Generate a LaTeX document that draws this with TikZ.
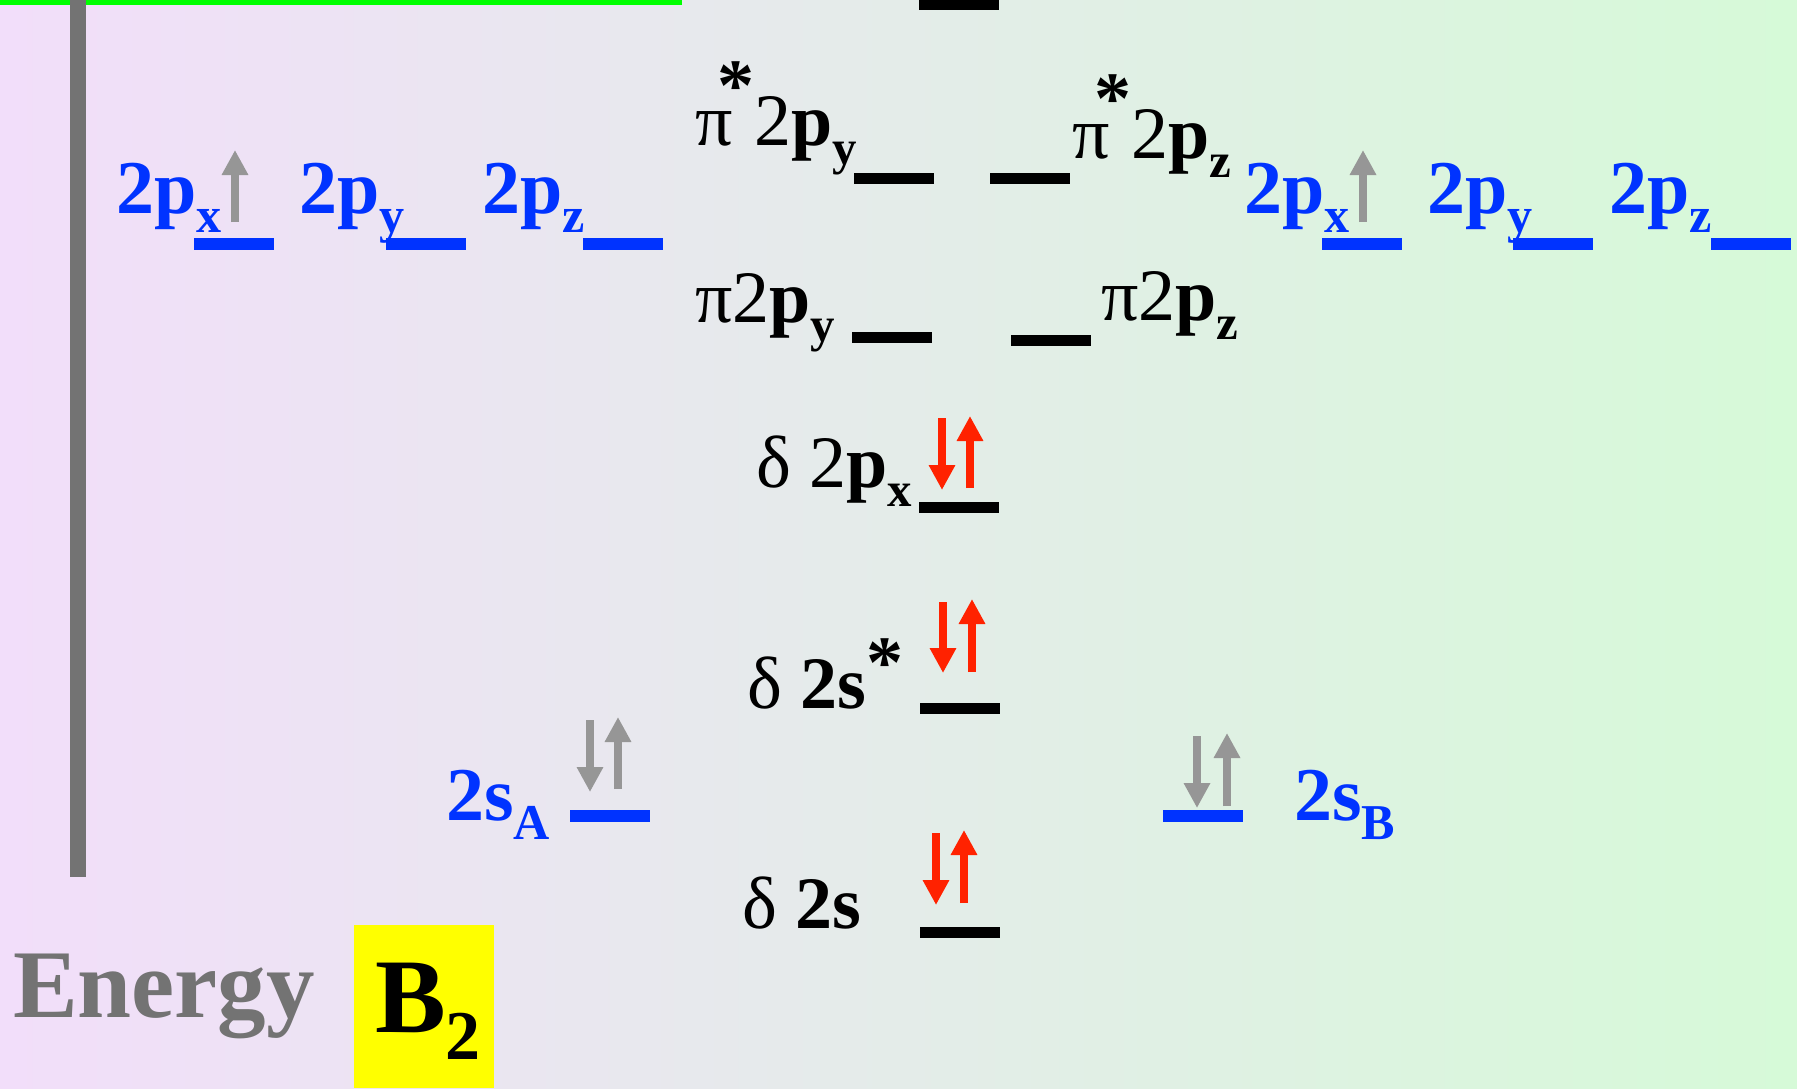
\documentclass[tikz,border=0pt]{standalone}
\usepackage{fontspec}
\setmainfont{Liberation Serif}
\usepackage{graphicx}
\usetikzlibrary{arrows.meta}
\definecolor{bgpink}{RGB}{242,222,250}
\definecolor{bgmid}{RGB}{228,234,232}
\definecolor{bggreen}{RGB}{214,250,216}
\definecolor{aoblue}{RGB}{0,51,255}
\definecolor{spinred}{RGB}{255,34,0}
\definecolor{spingray}{RGB}{150,150,150}
\definecolor{axisgray}{RGB}{115,115,115}
\definecolor{topgreen}{RGB}{0,255,0}
\definecolor{molyellow}{RGB}{255,255,0}
\newcommand\lo[1]{\raisebox{-0.26em}{\scalebox{0.66}{#1}}}
\newcommand\astup{\hspace{-15pt}\raisebox{0.47em}{\textbf{*}}}

\begin{document}
\begin{tikzpicture}[x=1pt,y=-1pt,
    mo/.style={fill=black, inner sep=0pt, minimum width=80pt, minimum height=11pt},
    ao/.style={fill=aoblue, inner sep=0pt, minimum width=80pt, minimum height=12pt},
    molbl/.style={anchor=base west, inner sep=0pt, font=\fontsize{74}{86}\selectfont},
    aolbl/.style={anchor=base west, inner sep=0pt, text=aoblue, font=\fontsize{76}{90}\selectfont\bfseries},
    spin/.style={line width=8pt, -{Triangle[width=25pt,length=25pt]}}]
  \useasboundingbox (0,0) rectangle (1797,1088);
  \shade[left color=bgpink, middle color=bgmid, right color=bggreen] (0,0) rectangle (1797,1088);
  \fill[topgreen] (0,0) rectangle (682,5);
  \fill[axisgray] (70,0) rectangle (86,877);
  \fill[molyellow] (354,925) rectangle (494,1088);

  % atomic orbitals, A left and B right
  \node[aolbl] (pxA) at (116,213) {2p\lo{x}};
  \node[aolbl] (pyA) at (299,213) {2p\lo{y}};
  \node[aolbl] (pzA) at (482,213) {2p\lo{z}};
  \node[aolbl] (pxB) at (1244,213) {2p\lo{x}};
  \node[aolbl] (pyB) at (1427,213) {2p\lo{y}};
  \node[aolbl] (pzB) at (1609,213) {2p\lo{z}};
  \node[aolbl] (sA) at (446,820) {2s\lo{A}};
  \node[aolbl] (sB) at (1294,820) {2s\lo{B}};
  \node[ao] (pxAlvl) at (234,244) {};
  \node[ao] (pyAlvl) at (426,244) {};
  \node[ao] (pzAlvl) at (623,244) {};
  \node[ao] (pxBlvl) at (1362,244) {};
  \node[ao] (pyBlvl) at (1553,244) {};
  \node[ao] (pzBlvl) at (1751,244) {};
  \node[ao] (sAlvl) at (609.5,816) {};
  \node[ao] (sBlvl) at (1203,816) {};

  % molecular orbitals
  \node[molbl] (pisy) at (695,145) {π\astup2\textbf{p}\lo{\textbf{y}}};
  \node[molbl] (pisz) at (1072,158) {π\astup2\textbf{p}\lo{\textbf{z}}};
  \node[molbl] (piy) at (695,322) {π2\textbf{p}\lo{\textbf{y}}};
  \node[molbl] (piz) at (1101,320) {π2\textbf{p}\lo{\textbf{z}}};
  \node[molbl] (sgpx) at (756,487) {δ 2\textbf{p}\lo{\textbf{x}}};
  \node[molbl] (sgss) at (747,708) {δ \textbf{2s}\raisebox{0.28em}{\textbf{*}}};
  \node[molbl] (sgs) at (742,928) {δ \textbf{2s}};
  \node[mo] (top) at (959,4.5) {};
  \node[mo] (pisylvl) at (893.5,178) {};
  \node[mo] (piszlvl) at (1030,178) {};
  \node[mo] (piylvl) at (891.5,337.5) {};
  \node[mo] (pizlvl) at (1051,340) {};
  \node[mo] (sgpxlvl) at (959,507) {};
  \node[mo] (sgsslvl) at (959.5,708.5) {};
  \node[mo] (sgslvl) at (960,932) {};

  % electrons
  \draw[spin, spingray] (235,222) -- (235,150);
  \draw[spin, spingray] (1363,222) -- (1363,150);
  \draw[spin, spingray] (590,720) -- (590,792);
  \draw[spin, spingray] (618,789) -- (618,717);
  \draw[spin, spingray] (1197,736) -- (1197,808);
  \draw[spin, spingray] (1227,806) -- (1227,733);
  \draw[spin, spinred] (942,418) -- (942,490);
  \draw[spin, spinred] (970,488) -- (970,416);
  \draw[spin, spinred] (943,602) -- (943,673);
  \draw[spin, spinred] (972,672) -- (972,599);
  \draw[spin, spinred] (936,833) -- (936,905);
  \draw[spin, spinred] (964,903) -- (964,830);

  \node[anchor=base west, inner sep=0pt, text=axisgray, font=\fontsize{97}{110}\selectfont\bfseries] (energy) at (13,1017) {Energy};
  \node[anchor=base west, inner sep=0pt, font=\fontsize{106}{120}\selectfont\bfseries] (mol) at (375,1032) {B\lo{2}};
\end{tikzpicture}
\end{document}
